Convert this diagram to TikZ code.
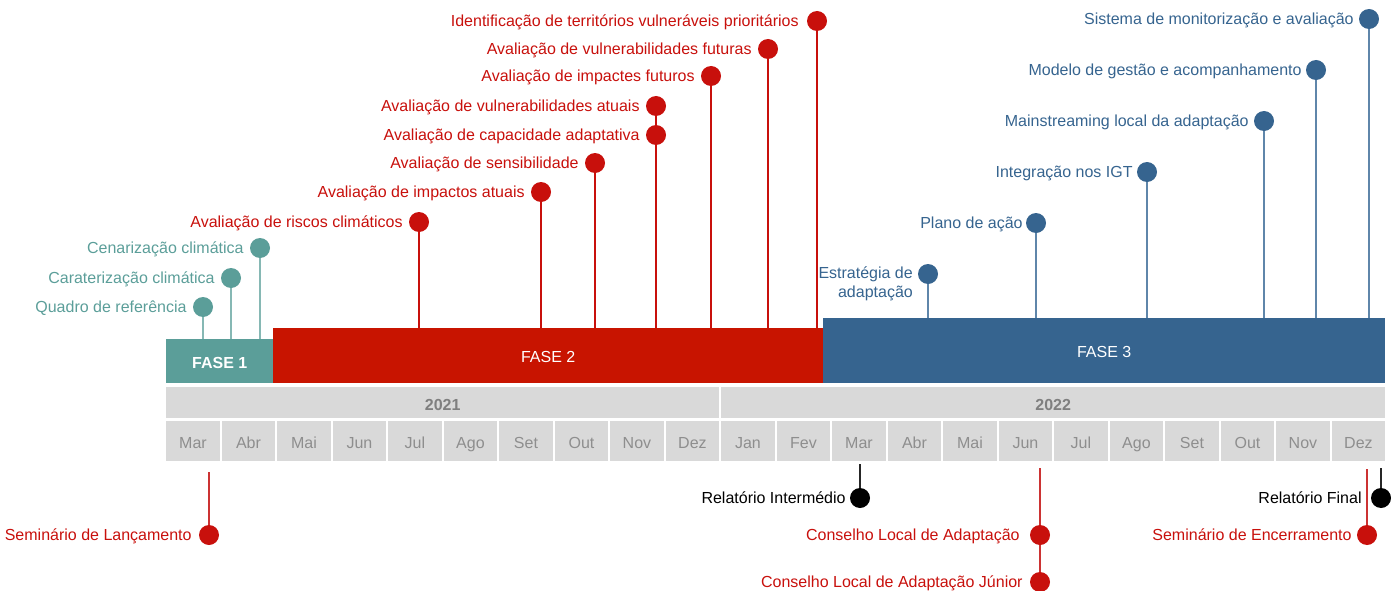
\documentclass[tikz,border=0pt]{standalone}
\usepackage{fontspec}
\setmainfont{Liberation Sans}
\definecolor{tealc}{HTML}{5B9E99}
\definecolor{teall}{HTML}{86B8B4}
\definecolor{redbar}{HTML}{C81400}
\definecolor{redc}{HTML}{C8100C}
\definecolor{redl}{HTML}{CC3333}
\definecolor{bluec}{HTML}{36648F}
\definecolor{bluel}{HTML}{5F86AA}
\definecolor{cellgray}{HTML}{D9D9D9}
\definecolor{monthgray}{HTML}{8E8E8E}
\definecolor{yeargray}{HTML}{7F7F7F}
\begin{document}
\begin{tikzpicture}[x=1pt,y=-1pt,font=\fontsize{16}{19}\selectfont,
  dot/.style={circle,inner sep=0pt,minimum size=20pt,fill=#1},
  lbl/.style={anchor=base east,inner sep=0pt,text=#1},
  stem/.style={draw=#1,line width=1.5pt},
  fasebox/.style={fill=#1,inner sep=0pt,anchor=north west,text=white,text height=14.5pt,text depth=0pt},
  cell/.style={fill=cellgray,inner sep=0pt,anchor=north west,text height=15.5pt,text depth=0pt}]
\useasboundingbox (0,0) rectangle (1391,591);

% phase bars
\node[fasebox=tealc,minimum width=107pt,minimum height=44pt,font=\fontsize{16}{19}\selectfont\bfseries] (f1) at (166,339) {FASE 1};
\node[fasebox=redbar,minimum width=550pt,minimum height=55pt] (f2) at (273,328) {FASE 2};
\node[fasebox=bluec,minimum width=562pt,minimum height=65pt] (f3) at (823,318) {FASE 3};

% years
\node[cell,minimum width=553pt,minimum height=31pt,text=yeargray,font=\fontsize{16}{19}\selectfont\bfseries] (y1) at (166,387) {2021};
\node[cell,minimum width=664pt,minimum height=31pt,text=yeargray,font=\fontsize{16}{19}\selectfont\bfseries] (y2) at (721,387) {2022};

% months
\foreach \m [count=\i from 0] in {Mar,Abr,Mai,Jun,Jul,Ago,Set,Out,Nov,Dez,Jan,Fev,Mar,Abr,Mai,Jun,Jul,Ago,Set,Out,Nov,Dez}{
  \node[cell,minimum width=53.5pt,minimum height=40pt,text=monthgray] (m\i) at ({166+\i*55.5},421) {\m};
}

% FASE 1 milestones
\node[dot=tealc] (q1) at (203,307) {};
\node[lbl=tealc] (q1l) at ([xshift=-6pt,yshift=-5.8pt]q1.west) {Quadro de referência};
\node[dot=tealc] (q2) at (231,278) {};
\node[lbl=tealc] (q2l) at ([xshift=-6pt,yshift=-5.8pt]q2.west) {Caraterização climática};
\node[dot=tealc] (q3) at (260,248) {};
\node[lbl=tealc] (q3l) at ([xshift=-6pt,yshift=-5.8pt]q3.west) {Cenarização climática};
\foreach \n in {q1,q2,q3} \draw[stem=teall] (\n) -- (\n |- f1.north);

% FASE 2 milestones
\node[dot=redc] (r1) at (419,222) {};
\node[lbl=redc] (r1l) at ([xshift=-6pt,yshift=-5.8pt]r1.west) {Avaliação de riscos climáticos};
\node[dot=redc] (r2) at (541,192) {};
\node[lbl=redc] (r2l) at ([xshift=-6pt,yshift=-5.8pt]r2.west) {Avaliação de impactos atuais};
\node[dot=redc] (r3) at (595,163) {};
\node[lbl=redc] (r3l) at ([xshift=-6pt,yshift=-5.8pt]r3.west) {Avaliação de sensibilidade};
\node[dot=redc] (r4) at (656,135) {};
\node[lbl=redc] (r4l) at ([xshift=-6pt,yshift=-5.8pt]r4.west) {Avaliação de capacidade adaptativa};
\node[dot=redc] (r5) at (656,106) {};
\node[lbl=redc] (r5l) at ([xshift=-6pt,yshift=-5.8pt]r5.west) {Avaliação de vulnerabilidades atuais};
\node[dot=redc] (r6) at (711,76) {};
\node[lbl=redc] (r6l) at ([xshift=-6pt,yshift=-5.8pt]r6.west) {Avaliação de impactes futuros};
\node[dot=redc] (r7) at (768,49) {};
\node[lbl=redc] (r7l) at ([xshift=-6pt,yshift=-5.8pt]r7.west) {Avaliação de vulnerabilidades futuras};
\node[dot=redc] (r8) at (817,21) {};
\node[lbl=redc] (r8l) at ([xshift=-8pt,yshift=-5.8pt]r8.west) {Identificação de territórios vulneráveis prioritários};
\foreach \n in {r1,r2,r3,r4,r6,r7,r8} \draw[stem=redc] (\n) -- (\n |- f2.north);
\draw[stem=redc] (r5) -- (r4);

% FASE 3 milestones
\node[dot=bluec] (b1) at (928,274) {};
\node[inner sep=0pt,text=bluec,anchor=east,align=right] (b1l) at (913,284) {Estratégia de\\adaptação};
\node[dot=bluec] (b2) at (1036,223) {};
\node[lbl=bluec] (b2l) at ([xshift=-3pt,yshift=-5.8pt]b2.west) {Plano de ação};
\node[dot=bluec] (b3) at (1147,172) {};
\node[lbl=bluec] (b3l) at ([xshift=-4pt,yshift=-5.8pt]b3.west) {Integração nos IGT};
\node[dot=bluec] (b4) at (1264,121) {};
\node[lbl=bluec] (b4l) at ([xshift=-5pt,yshift=-5.8pt]b4.west) {Mainstreaming local da adaptação};
\node[dot=bluec] (b5) at (1316,70) {};
\node[lbl=bluec] (b5l) at ([xshift=-4pt,yshift=-5.8pt]b5.west) {Modelo de gestão e acompanhamento};
\node[dot=bluec] (b6) at (1369,19) {};
\node[lbl=bluec] (b6l) at ([xshift=-5pt,yshift=-5.8pt]b6.west) {Sistema de monitorização e avaliação};
\foreach \n in {b1,b2,b3,b4,b5,b6} \draw[stem=bluel] (\n) -- (\n |- f3.north);

% bottom milestones
\node[dot=redc] (s1) at (209,535) {};
\node[lbl=redc] (s1l) at ([xshift=-7pt,yshift=-5.8pt]s1.west) {Seminário de Lançamento};
\coordinate (s1t) at (209,472);
\draw[stem=redl] (s1t) -- (s1);

\node[dot=black] (ri) at (860,498) {};
\node[lbl=black] (ril) at ([xshift=-4pt,yshift=-5.8pt]ri.west) {Relatório Intermédio};
\coordinate (rit) at (860,464);
\draw[stem=black!85] (rit) -- (ri);

\node[dot=redc] (c1) at (1040,535) {};
\node[lbl=redc] (c1l) at ([xshift=-10pt,yshift=-5.8pt]c1.west) {Conselho Local de Adaptação};
\node[dot=redc] (c2) at (1040,582) {};
\node[lbl=redc] (c2l) at ([xshift=-7pt,yshift=-5.8pt]c2.west) {Conselho Local de Adaptação Júnior};
\coordinate (c1t) at (1040,468);
\draw[stem=redl] (c1t) -- (c1);
\draw[stem=redl] (c1) -- (c2);

\node[dot=black] (rf) at (1381,498) {};
\node[lbl=black] (rfl) at ([xshift=-9pt,yshift=-5.8pt]rf.west) {Relatório Final};
\coordinate (rft) at (1381,468);
\draw[stem=black!85] (rft) -- (rf);

\node[dot=redc] (se) at (1367,535) {};
\node[lbl=redc] (sel) at ([xshift=-5pt,yshift=-5.8pt]se.west) {Seminário de Encerramento};
\coordinate (set) at (1367,469);
\draw[stem=redl] (set) -- (se);
\end{tikzpicture}
\end{document}
